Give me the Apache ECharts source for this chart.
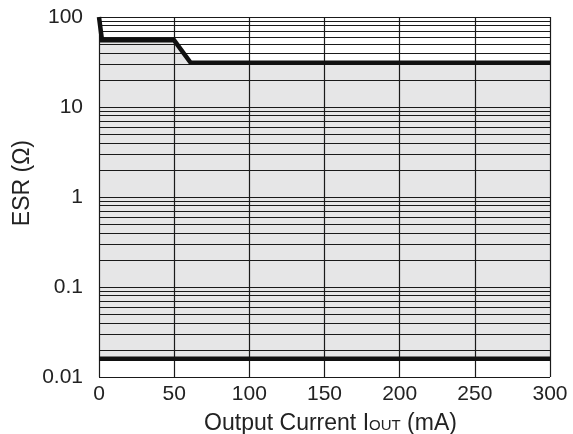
<!DOCTYPE html>
<html><head><meta charset="utf-8">
<script src="https://cdn.jsdelivr.net/npm/echarts@6/dist/echarts.min.js"></script>
<style>html,body{margin:0;padding:0;background:#fff}#c{width:573px;height:434px}</style>
</head><body><div id="c"></div>
<script>
// Data
const upperX = [0, 2, 50, 61, 300];
const upperY = [100, 55, 55, 31, 31];
const lowerX = [0, 300];
const lowerY = [0.016, 0.016];
const xTicks = [0, 50, 100, 150, 200, 250, 300];
const yDecades = [0.01, 0.1, 1, 10, 100];

const pairs = (xs, ys) => xs.map((x, i) => [x, ys[i]]);
const hLines = [];
for (let d = 0; d < yDecades.length - 1; d++) {
  for (let m = 1; m <= 9; m++) hLines.push(+(yDecades[d] * m).toPrecision(3));
}
hLines.push(100);
const vLines = xTicks.slice();

const chart = echarts.init(document.getElementById('c'));
const FONT = '"Liberation Sans", Arial, sans-serif';
chart.setOption({
  animation: false,
  grid: { left: 99, right: 23, top: 17, bottom: 57, outerBoundsMode: 'none', containLabel: false },
  graphic: [{
    type: 'text', left: 11, top: 140,
    style: { text: 'ESR (Ω)', fill: '#222', font: '23px ' + FONT },
    rotation: Math.PI / 2, originX: 0, originY: 0
  }],
  xAxis: {
    type: 'value', min: 0, max: 300, interval: 50,
    axisLine: { show: false }, axisTick: { show: false }, splitLine: { show: false },
    axisLabel: { color: '#222', fontSize: 21, fontFamily: FONT, margin: 7 },
    name: 'Output Current I{s|OUT} (mA)', nameLocation: 'middle', nameGap: 35,
    nameTextStyle: { color: '#222', fontSize: 23, fontFamily: FONT, padding: [0, 0, 0, 12],
      rich: { s: { fontSize: 15, fontFamily: FONT, color: '#222', verticalAlign: 'bottom', padding: [0,0,2,0] } } }
  },
  yAxis: {
    type: 'log', logBase: 10, min: 0.01, max: 100,
    axisLine: { show: false }, axisTick: { show: false }, splitLine: { show: false },
    axisLabel: { color: '#222', fontSize: 21, fontFamily: FONT, margin: 16,
      formatter: v => String(+v.toPrecision(3)) }
  },
  series: [
    { type: 'line', data: pairs(upperX, upperY), symbol: 'none', z: 1,
      lineStyle: { width: 0 }, areaStyle: { color: '#e6e6e7', opacity: 1, origin: 'start' } },
    { type: 'line', data: pairs(lowerX, lowerY), symbol: 'none', z: 1,
      lineStyle: { width: 0 }, areaStyle: { color: '#ffffff', opacity: 1, origin: 'start' } },
    { type: 'line', data: [], z: 2,
      markLine: { silent: true, symbol: 'none', z: 2, animation: false,
        label: { show: false },
        lineStyle: { color: '#1a1a1a', width: 1.2, type: 'solid' },
        data: hLines.map(v => ({ yAxis: v })).concat(vLines.map(v => ({ xAxis: v }))) } },
    { type: 'line', data: pairs(upperX, upperY), symbol: 'none', z: 5,
      lineStyle: { color: '#111', width: 4.5, join: 'miter' } },
    { type: 'line', data: pairs(lowerX, lowerY), symbol: 'none', z: 5,
      lineStyle: { color: '#111', width: 4.5 } }
  ]
});
</script></body></html>
